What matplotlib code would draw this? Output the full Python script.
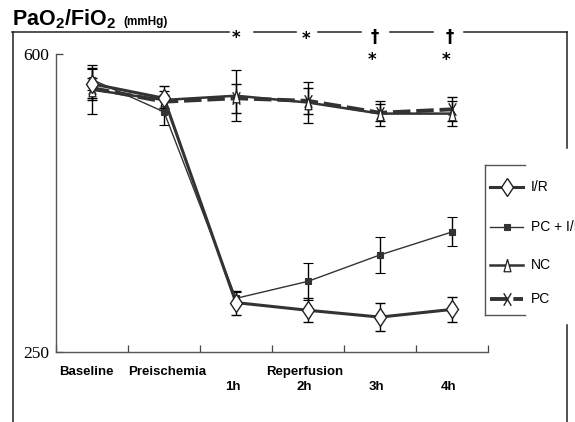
import numpy as np
import matplotlib
matplotlib.use("Agg")
import matplotlib.pyplot as plt
from matplotlib.lines import Line2D
from matplotlib.path import Path

plt.rcParams['font.family'] = ['Liberation Sans', 'DejaVu Sans']
plt.rcParams['mathtext.fontset'] = 'custom'
plt.rcParams['mathtext.bf'] = 'Liberation Sans:bold'
plt.rcParams['mathtext.rm'] = 'Liberation Sans:bold'

# --- data ---
groups = ["Baseline", "Preischemia", "1h", "2h", "3h", "4h"]
ir = [565, 548, 308, 299, 291, 300]
ir_err = [19, 14, 14, 14, 16, 15]
pc_ir = [570, 532, 313, 333, 364, 391]
pc_ir_err = [12, 15, 7, 22, 21, 17]
nc = [558, 546, 551, 543, 530, 530]
nc_err = [29, 10, 30, 24, 15, 15]
pc = [560, 544, 548, 545, 531, 535]
pc_err = [12, 8, 17, 15, 10, 14]
legend_names = ["I/R", "PC + I/R", "NC", "PC"]
y_ticks = [250, 600]

W, H = 575, 422
def fx(px):
    return px / W
def fy(py):
    return 1 - py / H

col = "#333333"
tri = [(0, 1), (-0.55, -1), (0.55, -1), (0, 1)]
xmark = Path([(-0.6, -1), (0.6, 1), (-0.6, 1), (0.6, -1)],
             [Path.MOVETO, Path.LINETO, Path.MOVETO, Path.LINETO])

styles = {
    "I/R": dict(color=col, lw=2.2, ls="-", marker="d", ms=9.5, mfc="white", mec="#222222", mew=1.0),
    "PC + I/R": dict(color=col, lw=1.0, ls="-", marker="s", ms=5, mfc=col, mec=col, mew=0.8),
    "NC": dict(color=col, lw=1.8, ls="-", marker=tri, ms=9, mfc="white", mec="#222222", mew=0.9),
    "PC": dict(color=col, lw=2.8, ls=(0, (4.5, 1.5)), marker=xmark, ms=9, mfc="none", mec="#222222", mew=1.0),
}

fig = plt.figure(figsize=(W / 100, H / 100), dpi=100)
ax = fig.add_axes([fx(56), fy(352), fx(488) - fx(56), fy(54) - fy(352)])

x = np.arange(len(groups)) + 0.5
series = [("PC", pc, pc_err), ("NC", nc, nc_err), ("PC + I/R", pc_ir, pc_ir_err), ("I/R", ir, ir_err)]
for name, vals, err in series:
    ax.errorbar(x, vals, yerr=err, ecolor="black", elinewidth=1.0, capsize=3.5,
                capthick=1.0, **styles[name])

ax.set_xlim(0, 6)
ax.set_ylim(250, 600)
ax.set_yticks(y_ticks)
ax.set_yticklabels([str(v) for v in y_ticks], family="Liberation Serif", fontsize=12.5)
ax.set_xticks(np.arange(0, 7))
ax.set_xticklabels([])
ax.tick_params(axis="both", direction="in", length=5, width=0.9, color="#444444", pad=4)
ax.tick_params(axis="y", pad=5)
for s in ["top", "right"]:
    ax.spines[s].set_visible(False)
for s in ["left", "bottom"]:
    ax.spines[s].set_color("#555555")
    ax.spines[s].set_linewidth(1.0)

# category labels under the axis
tr = ax.get_xaxis_transform()
lab = dict(fontsize=9.5, fontweight="bold", transform=tr, va="center")
ax.text(0.04, -0.067, groups[0], ha="left", **lab)
ax.text(1.0, -0.067, groups[1], ha="left", **lab)
ax.text(3.46, -0.067, "Reperfusion", ha="center", **lab)
for i in range(2, 6):
    ax.text(x[i] - 0.05, -0.117, groups[i], ha="center", **lab)

# significance marks
for xs, ys, s in [(2.5, 38, "*"), (3.47, 39, "*"), (4.43, 37, "†"), (5.47, 37, "†"),
                  (4.39, 60, "*"), (5.42, 60, "*")]:
    fig.text(fx(56 + xs * 72), fy(ys), s, ha="center", va="center", fontsize=12,
             fontweight="bold", family="DejaVu Sans")

# outer frame with gaps
fc = "#222222"
for a, b in [(12, 229), (254, 296), (318, 361), (390, 433), (464, 567)]:
    fig.add_artist(Line2D([fx(a), fx(b)], [fy(32), fy(32)], color=fc, lw=1.1))
fig.add_artist(Line2D([fx(12.5), fx(12.5)], [fy(32), fy(422)], color=fc, lw=1.1))
fig.add_artist(Line2D([fx(567), fx(567)], [fy(32), fy(148)], color=fc, lw=1.1))
fig.add_artist(Line2D([fx(567), fx(567)], [fy(325), fy(422)], color=fc, lw=1.1))

# title
fig.text(fx(12), fy(25), r"$\mathbf{PaO_2/FiO_2}$", fontsize=15.5, va="baseline")
fig.text(fx(123), fy(25), "(mmHg)", fontsize=8.5, fontweight="bold", va="baseline")

# legend (frame open on the right)
lc = "#555555"
fig.add_artist(Line2D([fx(485), fx(525)], [fy(165), fy(165)], color=lc, lw=1.0))
fig.add_artist(Line2D([fx(485), fx(525)], [fy(315), fy(315)], color=lc, lw=1.0))
fig.add_artist(Line2D([fx(485), fx(485)], [fy(165), fy(315)], color=lc, lw=1.0))
for name, ly in zip(legend_names, [187, 227, 265, 299]):
    st = dict(styles[name])
    fig.add_artist(Line2D([fx(490), fx(523)], [fy(ly), fy(ly)], color=st["color"], lw=st["lw"], ls=st["ls"]))
    fig.add_artist(Line2D([fx(507)], [fy(ly)], ls="none", marker=st["marker"], ms=st["ms"],
                          mfc=st["mfc"], mec=st["mec"], mew=st["mew"]))
    fig.text(fx(531), fy(ly), name, fontsize=10, va="center")

fig.savefig("out.png", dpi=100)
